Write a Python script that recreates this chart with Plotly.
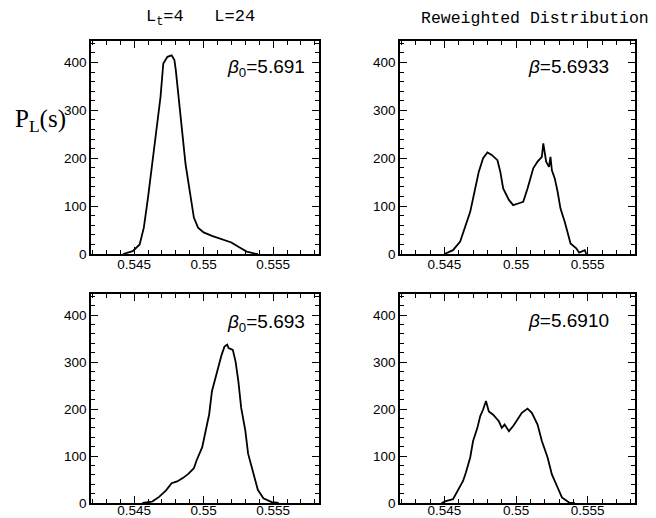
import plotly.graph_objects as go

# The page body has an 8px margin, so the figure is sized to fit the 656x518 window.
PAGE_OFF = 8
W, H = 656 - PAGE_OFF, 518 - PAGE_OFF

# ---- data ----
s_tl = [0.5442, 0.5449, 0.5454, 0.5457, 0.5460, 0.5463, 0.5466, 0.5469, 0.5471, 0.5474,
        0.5477, 0.5479, 0.5480, 0.5482, 0.5485, 0.5487, 0.5490, 0.5493, 0.5496, 0.5500,
        0.5506, 0.5513, 0.5520, 0.5525, 0.5531, 0.5537, 0.5539]
p_tl = [0, 6, 20, 55, 118, 188, 258, 328, 398, 412,
        415, 405, 384, 328, 258, 188, 132, 76, 55, 45,
        38, 31, 24, 15, 5, 1, 0]

s_tr = [0.5450, 0.5456, 0.5461, 0.5464, 0.5468, 0.5471, 0.5474, 0.5477, 0.5480, 0.5483,
        0.5487, 0.5489, 0.5491, 0.5495, 0.5498, 0.5502, 0.5505, 0.5508, 0.5510, 0.5512,
        0.5515, 0.5518, 0.5519, 0.5521, 0.5523, 0.5524, 0.5525, 0.5527, 0.5529, 0.5531,
        0.5534, 0.5536, 0.5538, 0.5542, 0.5544, 0.5548, 0.5549]
p_tr = [0, 8, 26, 54, 88, 130, 172, 200, 212, 207,
        196, 172, 137, 113, 102, 106, 109, 137, 158, 179,
        193, 203, 231, 193, 182, 203, 175, 158, 130, 95,
        67, 43, 22, 12, 3, 8, 0]

s_bl = [0.5456, 0.5463, 0.5468, 0.5473, 0.5477, 0.5481, 0.5485, 0.5489, 0.5493, 0.5495,
        0.5499, 0.5501, 0.5504, 0.5506, 0.5510, 0.5513, 0.5515, 0.5517, 0.5518, 0.5521,
        0.5523, 0.5525, 0.5527, 0.5530, 0.5532, 0.5536, 0.5539, 0.5543, 0.5549, 0.5554]
p_bl = [0, 3, 13, 27, 42, 46, 53, 62, 74, 91,
        119, 147, 189, 238, 284, 316, 333, 337, 330, 326,
        301, 259, 203, 154, 105, 63, 28, 10, 2, 0]

s_br = [0.5448, 0.5451, 0.5456, 0.5460, 0.5463, 0.5465, 0.5468, 0.5470, 0.5473, 0.5475,
        0.5477, 0.5479, 0.5481, 0.5484, 0.5488, 0.5490, 0.5492, 0.5495, 0.5498, 0.5501,
        0.5504, 0.5508, 0.5511, 0.5515, 0.5518, 0.5522, 0.5525, 0.5529, 0.5532, 0.5537, 0.5541]
p_br = [0, 4, 8, 30, 47, 65, 97, 132, 160, 185,
        199, 217, 195, 188, 174, 160, 167, 153, 164, 178,
        192, 201, 192, 167, 132, 97, 61, 33, 12, 1, 0]

x_ticks = [0.545, 0.55, 0.555]
x_ticktext = ["0.545", "0.55", "0.555"]
y_ticks = [0, 100, 200, 300, 400]
labels = ["<i>β</i><sub>0</sub>=5.691", "<i>β</i>=5.6933", "<i>β</i><sub>0</sub>=5.693", "<i>β</i>=5.6910"]
titles = ["L<sub>t</sub>=4   L=24", "Reweighted Distribution"]
ylabel = "P<sub>L</sub>(s)"

# ---- layout geometry (window pixels) ----
def fx(px):
    return (px - PAGE_OFF) / W

def fy(py):
    return 1 - (py - PAGE_OFF) / H

cols = [(91, 319), (400, 635)]
rows = [(41, 254), (294, 503)]

fig = go.Figure()
series = [(s_tl, p_tl), (s_tr, p_tr), (s_bl, p_bl), (s_br, p_br)]
label_pos = [(266, 68), (568, 66), (266, 323), (568, 320)]

axis_common = dict(showline=True, linecolor="black", linewidth=1.5, mirror="allticks",
                   ticks="inside", tickcolor="black", ticklen=7, tickwidth=1.3,
                   showgrid=False, zeroline=False, automargin=False,
                   tickfont=dict(family="Liberation Sans, Arial", size=13.5, color="black"))

for i, (xs, ys) in enumerate(series):
    r, c = divmod(i, 2)
    n = i + 1
    xa = "x" if n == 1 else f"x{n}"
    ya = "y" if n == 1 else f"y{n}"
    fig.add_trace(go.Scatter(x=xs, y=ys, mode="lines", xaxis=xa, yaxis=ya,
                             line=dict(color="black", width=1.8), showlegend=False))
    xkey = "xaxis" if n == 1 else f"xaxis{n}"
    ykey = "yaxis" if n == 1 else f"yaxis{n}"
    fig.update_layout(**{
        xkey: dict(axis_common, domain=[fx(cols[c][0]), fx(cols[c][1])], anchor=ya,
                   range=[0.5419, 0.5583], tickvals=x_ticks, ticktext=x_ticktext,
                   ticklabelstandoff=(-3 if r == 0 else -6),
                   minor=dict(dtick=0.001, tick0=0.545, ticks="inside", ticklen=4,
                              tickcolor="black", tickwidth=1)),
        ykey: dict(axis_common, domain=[fy(rows[r][1]), fy(rows[r][0])], anchor=xa,
                   range=[0, 445], tickvals=y_ticks,
                   minor=dict(dtick=20, tick0=0, ticks="inside", ticklen=4,
                              tickcolor="black", tickwidth=1)),
    })
    lx, ly = label_pos[i]
    fig.add_annotation(x=fx(lx), y=fy(ly), xref="paper", yref="paper", text=labels[i],
                       showarrow=False, xanchor="center", yanchor="middle",
                       font=dict(family="Liberation Sans, Arial", size=19, color="black"))

fig.add_annotation(x=fx(200), y=fy(18), xref="paper", yref="paper", text=titles[0],
                   showarrow=False, xanchor="center", yanchor="middle",
                   font=dict(family="Liberation Mono, DejaVu Sans Mono", size=17, color="black"))
fig.add_annotation(x=fx(651), y=fy(18), xref="paper", yref="paper", text=titles[1],
                   showarrow=False, xanchor="right", yanchor="middle",
                   font=dict(family="Liberation Mono, DejaVu Sans Mono", size=16.5, color="black"))
fig.add_annotation(x=fx(40), y=fy(120), xref="paper", yref="paper", text=ylabel,
                   showarrow=False, xanchor="center", yanchor="middle",
                   font=dict(family="Liberation Serif, Times New Roman", size=25, color="black"))

fig.update_layout(width=W, height=H, margin=dict(l=0, r=0, t=0, b=0),
                  paper_bgcolor="white", plot_bgcolor="white", template="none")

fig.write_html("out.html")
